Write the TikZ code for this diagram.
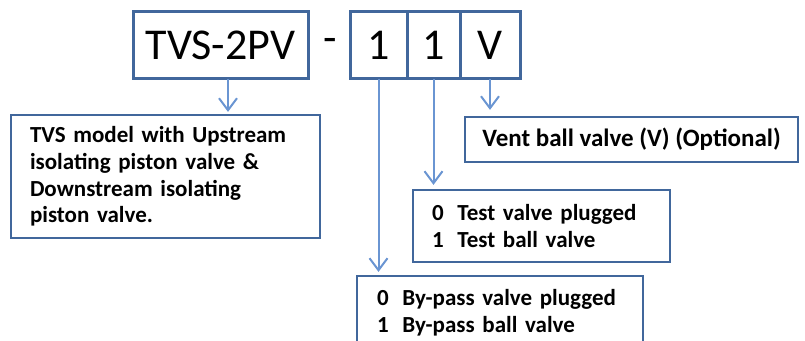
\documentclass[tikz,border=0pt]{standalone}
\usepackage{fontspec}
\setmainfont{Carlito}
\usepackage{xcolor}
\usetikzlibrary{arrows.meta, positioning}

\definecolor{boxblue}{HTML}{41679C}
\definecolor{arrowblue}{HTML}{6A95D2}

\begin{document}
\begin{tikzpicture}[
    x=1pt, y=1pt,
    code/.style={rectangle, draw=boxblue, line width=3pt, minimum height=67pt, inner sep=0pt, outer sep=0pt, font=\fontsize{44}{50}\selectfont},
    digit/.style={code, minimum width=55pt},
    info/.style={rectangle, draw=boxblue, line width=2.2pt, inner sep=0pt, align=left, font=\fontsize{23}{27}\selectfont\bfseries},
    arrow/.style={-{Straight Barb[length=12pt, width=18pt]}, line width=2pt, arrowblue}
]
\useasboundingbox (0,0) rectangle (805,340);

% order code
\node[code, minimum width=175pt] (tvs) at (220.5,294.5) {TVS-2PV};
\node[font=\fontsize{44}{50}\selectfont] (dash) at (330,295) {-};
\node[digit, minimum width=57pt] (bp) at (378.5,294.5) {1};
\node[digit, minimum width=53pt, right=0pt of bp] (tst) {1};
\node[digit, minimum width=60pt, right=0pt of tst] (vent) {V};

% explanations
\node[info, minimum width=309pt, minimum height=123pt, text width=271pt, font=\fontsize{23}{26.7}\selectfont\bfseries] (model) at (165.5,163.5) {TVS model with Upstream\\isolating piston valve \&\\Downstream isolating\\piston valve.};
\node[info, minimum width=333pt, minimum height=45pt, align=center, font=\fontsize{25}{30}\selectfont\bfseries] (ventinfo) at (631.5,200.5) {Vent ball valve (V) (Optional)};
\node[info, minimum width=257pt, minimum height=72pt, text width=219pt] (test) at (541.5,114) {0\hspace{.6em}Test valve plugged\\1\hspace{.6em}Test ball valve};
\node[info, minimum width=286pt, minimum height=74pt, text width=246pt] (bypass) at (500,27) {0\hspace{.6em}By-pass valve plugged\\1\hspace{.6em}By-pass ball valve};

\draw[arrow, shorten >=2pt] ([xshift=7.5pt]tvs.south) -- ([xshift=7.5pt]tvs.south |- model.north);
\draw[arrow, shorten >=6pt] (vent.south) -- (vent.south |- ventinfo.north);
\draw[arrow, shorten >=4pt] (tst.south) -- (tst.south |- test.north);
\draw[arrow, shorten >=3pt] (bp.south) -- (bp.south |- bypass.north);

\end{tikzpicture}
\end{document}
